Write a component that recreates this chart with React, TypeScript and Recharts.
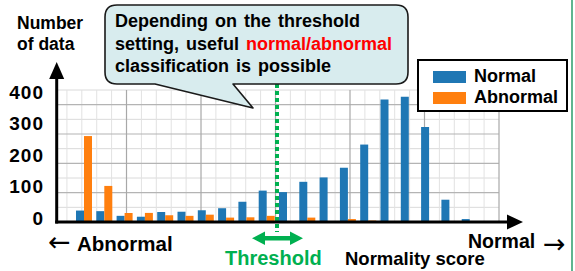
import React from 'react';
import { BarChart, Bar, XAxis, YAxis, ReferenceArea, ReferenceLine, Legend } from 'recharts';

const FONT = '"Liberation Sans", Arial, sans-serif';

// normality score bins (20 bins, left = abnormal side)
const scoreBins = ['1', '2', '3', '4', '5', '6', '7', '8', '9', '10', '11', '12', '13', '14', '15', '16', '17', '18', '19', '20'];
const normalCounts = [39, 37, 21, 18, 34, 35, 40, 47, 69, 107, 102, 137, 152, 185, 264, 418, 427, 324, 76, 10];
const abnormalCounts = [293, 123, 31, 31, 23, 21, 25, 15, 16, 21, 2, 15, 0, 10, 5, 0, 0, 0, 0, 0];
const thresholdBin = '11';
const legendOrder = ['Normal', 'Abnormal'];

// the slide's count labels
const countTicks = [0, 100, 200, 300, 400];

// grid of the underlying plot (count axis 0..450, score grid 0.067..6)
const countDomain = [0, 450];
const scoreGridDomain = [0.067, 6];
const gridMajorY = [100, 200, 300, 400];
const gridMinorY = [50, 150, 250, 350, 450];
const gridMajorX = [1, 2, 3, 4, 5, 6];
const gridMinorX = [0.2, 0.4, 0.6, 0.8, 1.2, 1.4, 1.6, 1.8, 2.2, 2.4, 2.6, 2.8, 3.2, 3.4, 3.6, 3.8, 4.2, 4.4, 4.6, 4.8, 5.2, 5.4, 5.6, 5.8];

const W = 575;
const H = 271;
const margin = { top: 90, right: 76, bottom: 49, left: 7 };
const labelAxisWidth = 50;
const plotLeft = margin.left + labelAxisWidth;
const plotWidth = W - plotLeft - margin.right;

const data = scoreBins.map((bin, i) => ({
  bin,
  normal: normalCounts[i],
  abnormal: abnormalCounts[i],
}));

// background grid, drawn in the rectangle the count axis gives for 0..450
const GridShape = (props: any) => {
  const { y, height } = props;
  const yOf = (v: number) => y + height * (1 - (v - countDomain[0]) / (countDomain[1] - countDomain[0]));
  const xOf = (v: number) => plotLeft + (plotWidth * (v - scoreGridDomain[0])) / (scoreGridDomain[1] - scoreGridDomain[0]);
  const right = plotLeft + plotWidth;
  const bottom = y + height;
  return (
    <g>
      {gridMinorY.map((v) => (
        <line key={'hy' + v} x1={plotLeft} x2={right} y1={yOf(v)} y2={yOf(v)} stroke="#dadada" strokeWidth={1} />
      ))}
      {gridMinorX.map((v) => (
        <line key={'vx' + v} x1={xOf(v)} x2={xOf(v)} y1={y} y2={bottom} stroke="#e2e2e2" strokeWidth={1} />
      ))}
      {gridMajorY.map((v) => (
        <line key={'Hy' + v} x1={plotLeft} x2={right} y1={yOf(v)} y2={yOf(v)} stroke="#b4b4b4" strokeWidth={1.2} />
      ))}
      {gridMajorX.map((v) => (
        <line key={'Vx' + v} x1={xOf(v)} x2={xOf(v)} y1={y} y2={bottom} stroke="#a8a8a8" strokeWidth={1.2} />
      ))}
    </g>
  );
};

const CountTick = (props: any) => {
  const { x, y, payload } = props;
  return (
    <text x={x} y={y} dy="0.36em" textAnchor="end" fontFamily={FONT} fontWeight="bold" fontSize={19} letterSpacing={1} fill="#000">
      {payload.value}
    </text>
  );
};

const LegendBox = (props: any) => {
  const items = [...(props.payload || [])].sort(
    (a: any, b: any) => legendOrder.indexOf(a.value) - legendOrder.indexOf(b.value)
  );
  return (
    <div style={{ padding: '5px 0 0 14px' }}>
      {items.map((item: any) => (
        <div key={item.value} style={{ display: 'flex', alignItems: 'center', height: 21 }}>
          <span style={{ display: 'inline-block', width: 33, height: 12, background: item.color, marginRight: 8 }} />
          <span style={{ fontFamily: FONT, fontWeight: 'bold', fontSize: 18, color: '#000', lineHeight: '21px' }}>{item.value}</span>
        </div>
      ))}
    </div>
  );
};

const ThresholdLine = (props: any) => {
  const { x1, x2, y1, y2 } = props;
  return <line x1={x1} x2={x2} y1={Math.min(y1, y2) - 6} y2={Math.max(y1, y2) + 10} stroke="#00b050" strokeWidth={4} strokeDasharray="4 3" />;
};

// callout bubble outline with its tail pointing at the threshold
const bubblePath =
  'M117,5 H396 Q408,5 408,17 V72 Q408,84 396,84 H233 L253,108 L155,84 H117 Q105,84 105,72 V17 Q105,5 117,5 Z';

export default function App() {
  return (
    <div style={{ position: 'absolute', left: 0, top: 0, width: W, height: H, background: '#fff' }}>
      <BarChart width={W} height={H} data={data} margin={margin} barGap={0} barSize={8}>
        <XAxis dataKey="bin" hide height={0} padding={{ left: 17, right: 19 }} />
        <YAxis hide width={0} domain={countDomain} allowDataOverflow />
        <YAxis
          yAxisId="label"
          domain={[-13, 406]}
          allowDataOverflow
          ticks={countTicks}
          interval={0}
          width={labelAxisWidth}
          axisLine={false}
          tickLine={false}
          tickMargin={7}
          tick={<CountTick />}
        />
        <ReferenceArea y1={countDomain[0]} y2={countDomain[1]} ifOverflow="visible" fill="none" shape={(p: any) => <GridShape {...p} />} />
        <Bar dataKey="normal" name="Normal" fill="#1f77b4" isAnimationActive={false} />
        <Bar dataKey="abnormal" name="Abnormal" fill="#ff7f0e" isAnimationActive={false} />
        <ReferenceLine x={thresholdBin} position="start" stroke="#00b050" shape={<ThresholdLine />} ifOverflow="visible" />
        <Legend
          verticalAlign="middle"
          align="center"
          layout="horizontal"
          wrapperStyle={{ left: 417, top: 59, width: 151, height: 53, boxSizing: 'border-box', border: '2px solid #000', background: '#fff' }}
          content={<LegendBox />}
        />
      </BarChart>

      <svg width={W} height={H} style={{ position: 'absolute', left: 0, top: 0, pointerEvents: 'none' }} fontFamily={FONT}>
        {/* y axis with arrow */}
        <line x1={56.7} x2={56.7} y1={223.5} y2={74} stroke="#000" strokeWidth={3} />
        <polygon points="56.7,62 49.2,79 64.2,79" fill="#000" />
        <text x={17} y={29} fontSize={17.5} fontWeight="bold">Number</text>
        <text x={17} y={50} fontSize={17.5} fontWeight="bold">of data</text>

        {/* x axis with arrow */}
        <line x1={55.2} x2={510} y1={222} y2={222} stroke="#000" strokeWidth={3} />
        <polygon points="523,222 507,214.5 507,229.5" fill="#000" />

        {/* callout */}
        <path d={bubblePath} fill="#d8ecee" stroke="#1a1a1a" strokeWidth={1.6} strokeLinejoin="round" />
        <text x={115} y={27} fontSize={18} fontWeight="bold" wordSpacing={2}>Depending on the threshold</text>
        <text x={115} y={50} fontSize={18} fontWeight="bold" wordSpacing={2}>
          setting, useful <tspan fill="#ff0000">normal/abnormal</tspan>
        </text>
        <text x={115} y={72} fontSize={18} fontWeight="bold" wordSpacing={2}>classification is possible</text>

        {/* bottom annotations */}
        <text x={48} y={251} fontSize={27} fontFamily="DejaVu Sans">←</text>
        <text x={77} y={251} fontSize={20.5} fontWeight="bold">Abnormal</text>
        <text x={468} y={248} fontSize={19.5} fontWeight="bold">Normal</text>
        <text x={543} y={253} fontSize={27} fontFamily="DejaVu Sans">→</text>

        <polygon points="252,238.3 265,231.5 265,236 290,236 290,231.5 303,238.3 290,245 290,240.6 265,240.6 265,245" fill="#00b050" />
        <text x={225} y={265} fontSize={20} fontWeight="bold" fill="#00b050">Threshold</text>
        <text x={345} y={265} fontSize={18.5} fontWeight="bold">Normality score</text>

        {/* slide frame edge */}
        <line x1={572} x2={572} y1={0} y2={271} stroke="#2a9c6a" strokeWidth={1.5} />
      </svg>
    </div>
  );
}
